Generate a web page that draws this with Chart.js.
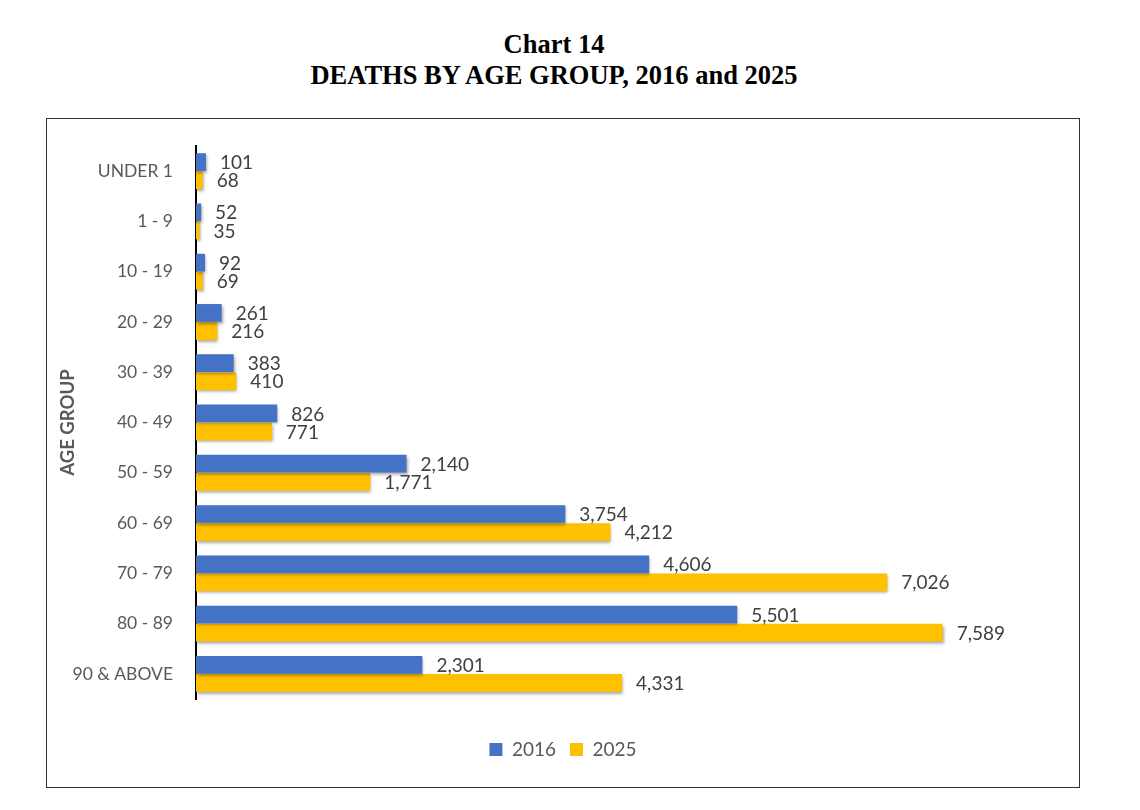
<!DOCTYPE html>
<html>
  <head>
    <title>Deaths by Age Group</title>
    <script src="https://cdn.jsdelivr.net/npm/chart.js"></script>
    <style>
      body {
        margin: 0;
        width: 1140px;
        height: 810px;
        background: #fff;
        position: relative;
      }
      #heading {
        position: absolute;
        left: 0;
        top: 29px;
        width: 1108px;
        text-align: center;
        font-family: 'Liberation Serif', 'Times New Roman', serif;
        font-weight: bold;
        font-size: 26.5px;
        line-height: 31px;
        color: #000;
      }
      #frame {
        position: absolute;
        left: 46px;
        top: 118px;
        width: 1032px;
        height: 668px;
        border: 1.5px solid #333;
      }
    </style>
  </head>
  <body>
    <div id="heading">Chart 14<br>DEATHS BY AGE GROUP, 2016 and 2025</div>
    <div id="frame"><canvas id="deaths-chart" width="1032" height="668"></canvas></div>

    <script>
      // Age groups and deaths per year
      const ageGroups = ['UNDER 1', '1 - 9', '10 - 19', '20 - 29', '30 - 39', '40 - 49',
        '50 - 59', '60 - 69', '70 - 79', '80 - 89', '90 & ABOVE']
      const deaths2016 = [101, 52, 92, 261, 383, 826, 2140, 3754, 4606, 5501, 2301]
      const deaths2025 = [68, 35, 69, 216, 410, 771, 1771, 4212, 7026, 7589, 4331]

      const blue = '#4472C4'
      const gold = '#FFC000'
      const textGrey = '#595959'
      const fontFamily = 'Lato, "Open Sans", sans-serif'

      // soft drop shadow under the bars, like the Excel original
      const barShadow = {
        id: 'barShadow',
        beforeDatasetDraw(chart) {
          const ctx = chart.ctx
          ctx.save()
          ctx.shadowColor = 'rgba(0,0,0,0.35)'
          ctx.shadowBlur = 3
          ctx.shadowOffsetX = 1
          ctx.shadowOffsetY = 2
        },
        afterDatasetDraw(chart) {
          chart.ctx.restore()
        }
      }

      // value labels just past the end of each bar
      const valueLabels = {
        id: 'valueLabels',
        afterDatasetsDraw(chart) {
          const ctx = chart.ctx
          ctx.save()
          ctx.font = '19px ' + fontFamily
          ctx.fillStyle = '#404040'
          ctx.textAlign = 'left'
          ctx.textBaseline = 'middle'
          chart.data.datasets.forEach((ds, i) => {
            chart.getDatasetMeta(i).data.forEach((bar, j) => {
              ctx.fillText(ds.data[j].toLocaleString('en-US'), bar.x + 14, bar.y + 1)
            })
          })
          ctx.restore()
        }
      }

      new Chart(document.getElementById('deaths-chart'), {
        type: 'bar',
        data: {
          labels: ageGroups,
          datasets: [
            { label: '2016', data: deaths2016, backgroundColor: blue },
            { label: '2025', data: deaths2025, backgroundColor: gold }
          ]
        },
        options: {
          indexAxis: 'y',
          responsive: false,
          animation: false,
          categoryPercentage: 0.72,
          barPercentage: 0.98,
          layout: { padding: { top: 27, right: 0, bottom: 18, left: 0 } },
          scales: {
            x: {
              min: 0,
              max: 8975,
              grid: { display: false },
              border: { display: false },
              ticks: { display: false },
              afterFit(scale) { scale.height = 27 }
            },
            y: {
              grid: { display: false },
              border: { display: true, color: '#000', width: 2 },
              ticks: {
                color: textGrey,
                padding: 15,
                font: { family: fontFamily, size: 17.5 }
              },
              title: {
                display: true,
                text: 'AGE GROUP',
                color: textGrey,
                padding: { top: 10, bottom: 0 },
                font: { family: fontFamily, size: 18.5, weight: 'bold' }
              },
              afterFit(scale) { scale.width = 149 }
            }
          },
          plugins: {
            legend: {
              position: 'bottom',
              labels: {
                boxWidth: 13,
                boxHeight: 13,
                padding: 14,
                color: textGrey,
                font: { family: fontFamily, size: 19 }
              }
            },
            tooltip: { enabled: false }
          }
        },
        plugins: [barShadow, valueLabels]
      })
    </script>
  </body>
</html>
